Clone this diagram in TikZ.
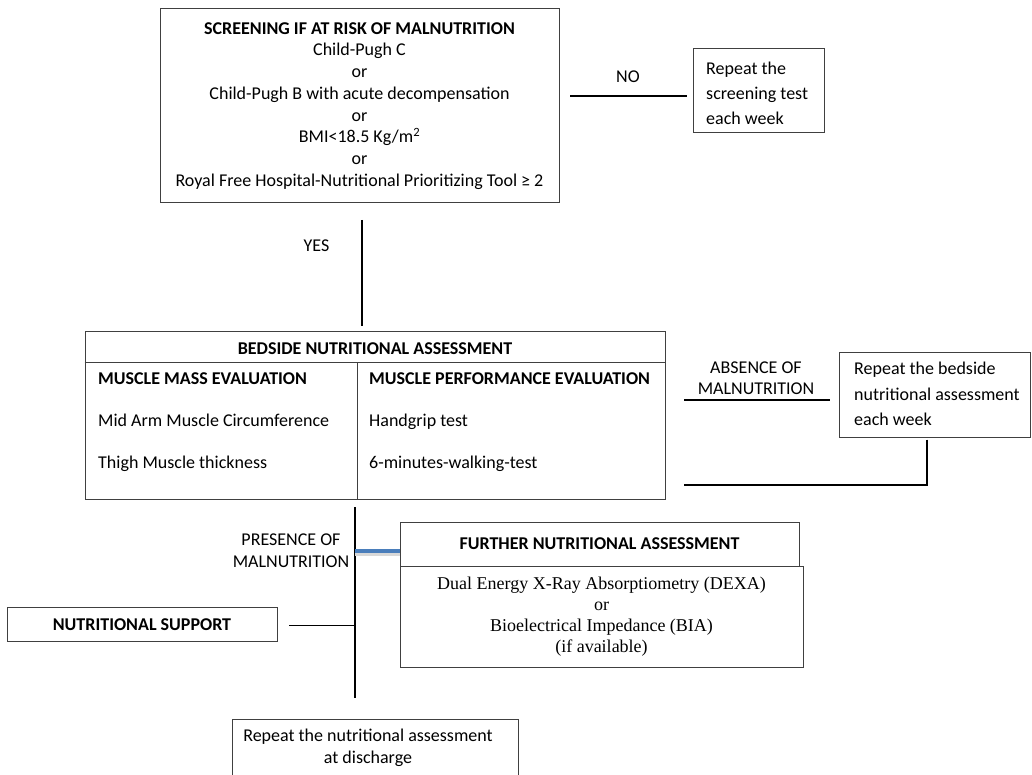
\documentclass[tikz,border=0pt]{standalone}
\usepackage{fontspec}
\setmainfont{Carlito}
\newfontfamily\dexafont{Liberation Serif}
\usetikzlibrary{positioning}
\definecolor{edgegray}{HTML}{404040}
\definecolor{presblue}{HTML}{4A7EBB}
\definecolor{shadegray}{HTML}{D8D8D8}
\tikzset{
  box/.style={draw=edgegray, line width=1pt, inner sep=0pt},
  lbl/.style={inner sep=0pt, font=\fontsize{18}{21.7}\selectfont},
  boldlbl/.style={inner sep=0pt, font=\fontsize{18}{21.7}\selectfont\bfseries},
  wire/.style={line width=1.8pt},
  thinwire/.style={line width=1pt},
}
\begin{document}
\begin{tikzpicture}[x=1pt, y=-1pt]
\useasboundingbox (0,0) rectangle (1032,775);
% boxes
\path (359.5,106) node[box, minimum width=399pt, minimum height=194pt] (screen) {}
      (758.5,91) node[box, minimum width=131pt, minimum height=84pt] (weekly) {}
      (375,415) node[box, minimum width=580pt, minimum height=168pt] (bedside) {}
      (934.5,394.5) node[box, minimum width=191pt, minimum height=85pt] (bedweekly) {}
      (599.5,544) node[box, minimum width=399pt, minimum height=44pt] (further) {}
      (601.5,616.5) node[box, minimum width=403pt, minimum height=101pt] (dexa) {}
      (142,624) node[box, minimum width=270pt, minimum height=34pt] (support) {}
      (375,754.5) node[box, minimum width=286pt, minimum height=71pt] (discharge) {};
\draw[box] (bedside.west |- 0,362) -- (bedside.east |- 0,362)
      (357,362) -- (357,0 |- bedside.south);
% texts
\path (359.5,22.2) node[lbl, anchor=north, align=center] (criteria)
        {\textbf{SCREENING IF AT RISK OF MALNUTRITION}\\Child-Pugh C\\or\\Child-Pugh B with acute decompensation\\or\\BMI<18.5 Kg/m\textsuperscript{2}\\or\\Royal Free Hospital-Nutritional Prioritizing Tool ≥ 2}
      (706,61.5) node[lbl, anchor=north west, align=left, font=\fontsize{18}{25}\selectfont] (weeklytxt)
        {Repeat the\\screening test\\each week}
      (628,82.8) node[lbl, anchor=base] (no) {NO}
      (316.5,251.8) node[lbl, anchor=base] (yes) {YES}
      (375,354.8) node[boldlbl, anchor=base] (bedhead) {BEDSIDE NUTRITIONAL ASSESSMENT}
      (98,384.8) node[boldlbl, anchor=base west] (mass) {MUSCLE MASS EVALUATION}
      (98,426.8) node[lbl, anchor=base west] (mamc) {Mid Arm Muscle Circumference}
      (98,468.8) node[lbl, anchor=base west] (thigh) {Thigh Muscle thickness}
      (369,384.8) node[boldlbl, anchor=base west] (perf) {MUSCLE PERFORMANCE EVALUATION}
      (369,426.8) node[lbl, anchor=base west] (grip) {Handgrip test}
      (369,468.8) node[lbl, anchor=base west] (walk) {6-minutes-walking-test}
      (756,361.2) node[lbl, anchor=north, align=center, font=\fontsize{18}{21.5}\selectfont] (absent)
        {ABSENCE OF\\MALNUTRITION}
      (854,362.2) node[lbl, anchor=north west, align=left, font=\fontsize{18}{25.5}\selectfont] (bedweeklytxt)
        {Repeat the bedside\\nutritional assessment\\each week}
      (291,533.2) node[lbl, anchor=north, align=center, font=\fontsize{18}{22}\selectfont] (present)
        {PRESENCE OF\\MALNUTRITION}
      (599.5,549.8) node[boldlbl, anchor=base] (furtherhead) {FURTHER NUTRITIONAL ASSESSMENT}
      (601.5,577) node[lbl, anchor=north, align=center, font=\fontsize{18}{21}\dexafont] (dexatxt)
        {Dual Energy X-Ray Absorptiometry (DEXA)\\or\\Bioelectrical Impedance (BIA)\\(if available)}
      (142,630.8) node[boldlbl, anchor=base] (supporttxt) {NUTRITIONAL SUPPORT}
      (368,729) node[lbl, anchor=north, align=center] (dischargetxt)
        {Repeat the nutritional assessment\\at discharge};
% connectors
\coordinate (noA) at (570,96);
\coordinate (noB) at (687,96);
\coordinate (yesA) at (362,220);
\coordinate (yesB) at (362,326);
\coordinate (absA) at (684,400);
\coordinate (absB) at (830,400);
\coordinate (backA) at (927,0 |- bedweekly.south);
\coordinate (backB) at (684,485);
\coordinate (mainA) at (355,507);
\coordinate (mainB) at (355,698);
\coordinate (presA) at (355,551);
\coordinate (supA) at (289,625);
\coordinate (supB) at (355,625);
\draw[wire] (noA) -- (noB)
      (yesA) -- (yesB)
      (absA) -- (absB)
      ([yshift=-2pt]backA) |- (backB)
      (mainA) -- (mainB);
\draw[thinwire] (supA) -- (supB);
\draw[shadegray, line width=3pt] ([yshift=-3pt]presA) -- ([yshift=-3pt]presA -| further.west);
\draw[presblue, line width=3.5pt] (presA) -- (presA -| further.west);
\end{tikzpicture}
\end{document}
